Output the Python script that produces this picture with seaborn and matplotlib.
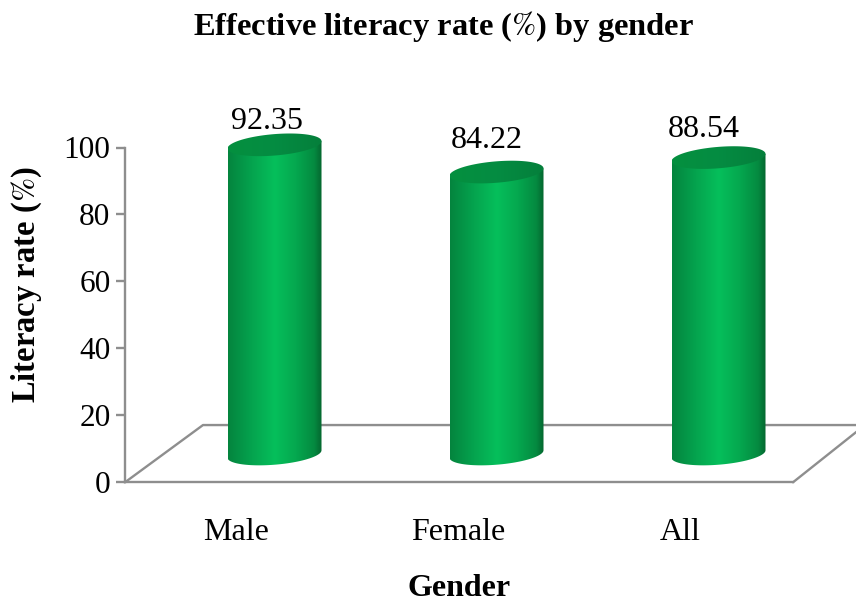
import numpy as np
import pandas as pd
import matplotlib
matplotlib.use("Agg")
import matplotlib.pyplot as plt
import seaborn as sns
from matplotlib.colors import LinearSegmentedColormap
from matplotlib.patches import Polygon

genders = ["Male", "Female", "All"]
literacy = [92.35, 84.22, 88.54]
y_ticks = [0, 20, 40, 60, 80, 100]

GREY = "#8e8e8e"
# the cylinders stand a little above zero on the floor
BASE = 8.45
FLOOR_BACK = 17.1
# px per data unit, from the axes size below
PX_Y = 3.348
PX_X = 222.0
# label shifts in px, they were placed by hand in the original
LABEL_SHIFT = [(-7.5, 26), (-9.5, 35), (-15, 31)]

sns.set_theme(style="white")
plt.rcParams["font.family"] = ["Liberation Serif", "DejaVu Serif"]
plt.rcParams["mathtext.fontset"] = "stix"

side_cmap = LinearSegmentedColormap.from_list(
    "side", [(0, "#04843e"), (0.25, "#05a34e"), (0.5, "#06bf5b"), (0.72, "#05a84f"), (0.92, "#048a40"), (1, "#04662f")]
)
top_cmap = LinearSegmentedColormap.from_list("top", ["#04903f", "#058c42", "#047f3b"])

fig = plt.figure(figsize=(8.56, 6.01), dpi=100)
ax = fig.add_axes([125 / 856, 1 - 482.3 / 601, 668 / 856, 334.8 / 601])

df = pd.DataFrame({"gender": genders, "literacy": literacy})
sns.barplot(data=df, x="gender", y="literacy", color="#06bf5b", width=94 / PX_X,
            bottom=BASE, saturation=1, ax=ax, zorder=3)

x0 = (125 - 274.5) / PX_X
x1 = (793 - 274.5) / PX_X
ax.set_xlim(x0, x1)
ax.set_ylim(0, 100)

# floor of the 3d box
ax.plot([x0, x0 + 78 / PX_X, x1 + 72 / PX_X], [0, FLOOR_BACK, FLOOR_BACK], color=GREY, lw=1.7, clip_on=False, zorder=1)
ax.plot([x1, x1 + 72 / PX_X], [0, FLOOR_BACK], color=GREY, lw=1.7, clip_on=False, zorder=1)

t = np.linspace(0, 2 * np.pi, 120)
grad = np.linspace(0, 1, 256).reshape(1, -1)
for bar, val, shift in zip(ax.patches, literacy, LABEL_SHIFT):
    left, w = bar.get_x(), bar.get_width()
    top = bar.get_y() + bar.get_height()
    cx = left + w / 2
    bar.set_visible(False)

    # ellipses lean a bit, right end higher than left end
    ex = cx + w / 2 * np.cos(t)
    lean = 1.1 * np.cos(t)
    round_y = 3.2 * np.sin(t)

    low = t > np.pi
    order = np.argsort(ex[low])
    body_x = np.r_[left, ex[low][order], left + w, left + w, left]
    body_y = np.r_[BASE - 1.1, (BASE + lean + round_y)[low][order], BASE + 1.1, top + 1.1, top - 1.1]
    body = Polygon(np.c_[body_x, body_y], closed=True, transform=ax.transData, fc="none", ec="none")
    ax.add_patch(body)
    im = ax.imshow(grad, extent=[left, left + w, BASE - 5, top + 2], aspect="auto", cmap=side_cmap, zorder=3)
    im.set_clip_path(body)
    im.set_clip_box(fig.bbox)

    cap = Polygon(np.c_[ex, top + lean + round_y], closed=True, transform=ax.transData, fc="none", ec="none")
    ax.add_patch(cap)
    im2 = ax.imshow(grad, extent=[left, left + w, top - 5, top + 5], aspect="auto", cmap=top_cmap, zorder=4)
    im2.set_clip_path(cap)
    im2.set_clip_box(fig.bbox)

    ax.annotate(f"{val:.2f}", (cx, top), xytext=(shift[0] * 0.72, (shift[1] - 3) * 0.72), textcoords="offset points",
                ha="center", va="center", fontsize=23, color="black", annotation_clip=False, zorder=5)

ax.set_xlim(x0, x1)
ax.set_ylim(0, 100)

sns.despine(ax=ax, top=True, right=True)
for side in ["left", "bottom"]:
    ax.spines[side].set_color(GREY)
    ax.spines[side].set_linewidth(1.7)

ax.set_yticks(y_ticks)
ax.tick_params(axis="y", length=6.5, width=1.7, color=GREY, labelsize=22.5, labelcolor="black", pad=4, left=True)
# category labels sit left of the bars
ax.set_xticks(np.arange(len(genders)) - 38 / PX_X, labels=genders)
ax.tick_params(axis="x", length=0, labelsize=23, labelcolor="black", pad=26)

ax.set_xlabel("Gender", fontsize=23, fontweight="bold", color="black")
ax.xaxis.set_label_coords((459 - 125) / 668, (482.3 - 588) / 334.8)
ax.xaxis.label.set_va("center")
ax.set_ylabel(r"Literacy rate ($\mathit{\%}$)", fontsize=23.5, fontweight="bold", color="black")
ax.yaxis.set_label_coords((27 - 125) / 668, (482.3 - 285) / 334.8)
ax.yaxis.label.set_va("center")

fig.text(444 / 856, 1 - 27 / 601, r"Effective literacy rate ($\mathit{\%}$) by gender", ha="center", va="center",
         fontsize=23.4, fontweight="bold", color="black")

fig.savefig("out.png", dpi=100, facecolor="white")
